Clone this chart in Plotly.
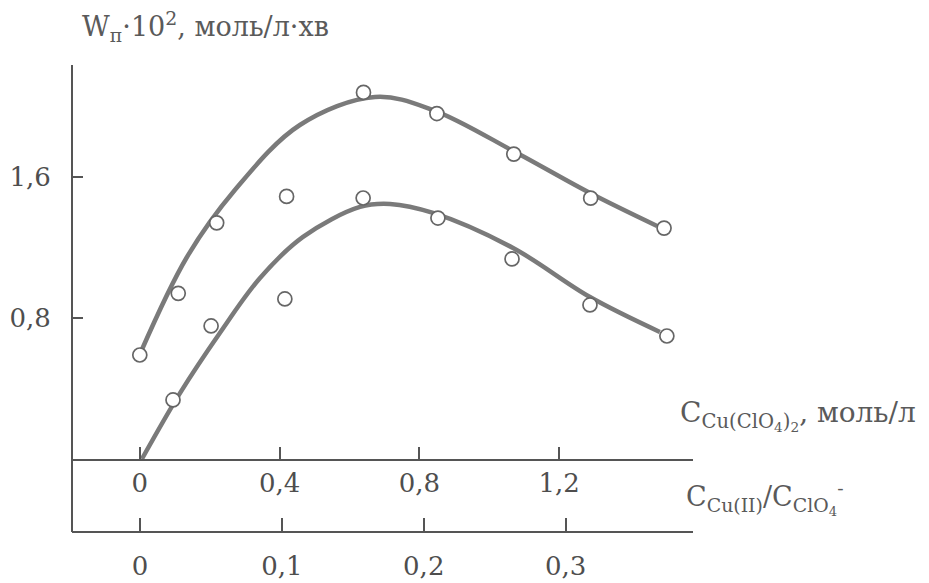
import plotly.graph_objects as go

# ---- data ----
# Upper series (measured points)
up_x = [0.0, 0.11, 0.22, 0.42, 0.64, 0.85, 1.07, 1.29, 1.50]
up_y = [0.59, 0.94, 1.34, 1.49, 2.08, 1.96, 1.73, 1.48, 1.31]
# Lower series (measured points)
lo_x = [0.095, 0.204, 0.415, 0.639, 0.853, 1.065, 1.288, 1.508]
lo_y = [0.335, 0.755, 0.908, 1.481, 1.367, 1.135, 0.874, 0.698]

# Fitted curves
up_cx = [0.003, 0.135, 0.272, 0.458, 0.673, 0.839, 1.079, 1.288, 1.480]
up_cy = [0.607, 1.146, 1.526, 1.895, 2.054, 1.980, 1.736, 1.509, 1.322]
lo_cx = [0.006, 0.115, 0.229, 0.344, 0.467, 0.630, 0.716, 0.839, 1.068, 1.288, 1.488]
lo_cy = [0.0, 0.374, 0.715, 1.027, 1.260, 1.430, 1.447, 1.396, 1.197, 0.919, 0.721]

# Axis ticks
x_ticks = [0, 0.4, 0.8, 1.2]
x_ticktext = ["0", "0,4", "0,8", "1,2"]
r_ticks = [0, 0.1, 0.2, 0.3]
r_ticktext = ["0", "0,1", "0,2", "0,3"]
y_ticks = [0.8, 1.6]
y_ticktext = ["0,8", "1,6"]

W, H = 929, 583
FONT = "DejaVu Serif"
AX = "#555555"
CURVE = "#7a7a7a"
TXT = "#4e4e4e"
TTL = "#5a5a5a"

fig = go.Figure()
for cx, cy in [(up_cx, up_cy), (lo_cx, lo_cy)]:
    fig.add_trace(go.Scatter(x=cx, y=cy, mode="lines", xaxis="x", yaxis="y",
                             line=dict(color=CURVE, width=4.5, shape="spline", smoothing=1.0),
                             hoverinfo="skip", showlegend=False))
for px, py in [(up_x, up_y), (lo_x, lo_y)]:
    fig.add_trace(go.Scatter(x=px, y=py, mode="markers", xaxis="x", yaxis="y",
                             marker=dict(symbol="circle", size=14, color="white",
                                         line=dict(color="#666666", width=1.7)),
                             showlegend=False))
# reference trace for the ratio axis (no visible marks)
fig.add_trace(go.Scatter(x=r_ticks, y=[None] * len(r_ticks), xaxis="x2", yaxis="y",
                         mode="markers", showlegend=False, hoverinfo="skip"))

dom = [72 / W, 693 / W]
tf = dict(family=FONT, size=26, color=TXT)
fig.update_layout(
    width=W, height=H, margin=dict(l=0, r=0, t=0, b=0, pad=0),
    paper_bgcolor="white", plot_bgcolor="white",
    font=dict(family=FONT, color=TXT, size=26),
    xaxis=dict(domain=dom, range=[-0.194, 1.5828], anchor="free", position=1 - 460 / H,
               tickvals=x_ticks, ticktext=x_ticktext, ticks="inside", ticklen=12,
               tickwidth=1.5, tickcolor=AX, showline=True, linecolor=AX, linewidth=1.8,
               showgrid=False, zeroline=False, ticklabelstandoff=0, tickfont=tf,
               automargin=False),
    xaxis2=dict(domain=dom, range=[-0.04785, 0.38972], overlaying="x", anchor="free",
                position=1 - 532 / H, side="bottom",
                tickvals=r_ticks, ticktext=r_ticktext, ticks="inside", ticklen=13,
                tickwidth=1.5, tickcolor=AX, showline=True, linecolor=AX, linewidth=1.8,
                showgrid=False, zeroline=False, ticklabelstandoff=11, tickfont=tf,
                automargin=False),
    yaxis=dict(domain=[1 - 532 / H, 1 - 65 / H], range=[-0.4142, 2.2355],
               anchor="free", position=72 / W,
               tickvals=y_ticks, ticktext=y_ticktext, ticks="inside", ticklen=10,
               tickwidth=1.5, tickcolor=AX, showline=True, linecolor=AX, linewidth=1.8,
               showgrid=False, zeroline=False, ticklabelstandoff=15, tickfont=tf,
               automargin=False),
    annotations=[
        dict(text="W<sub>п</sub>·10<sup>2</sup>, моль/л·хв", xref="paper", yref="paper",
             x=80 / W, y=1 - 26 / H, xanchor="left", yanchor="middle", showarrow=False,
             font=dict(family=FONT, size=27, color=TTL)),
        dict(text="C<sub>Cu(ClO<sub>4</sub>)<sub>2</sub></sub>, моль/л", xref="paper", yref="paper",
             x=678 / W, y=1 - 415 / H, xanchor="left", yanchor="middle", showarrow=False,
             font=dict(family=FONT, size=28, color=TTL)),
        dict(text="C<sub>Cu(II)</sub>/C<sub>ClO<sub>4</sub></sub><sup>-</sup>", xref="paper", yref="paper",
             x=684 / W, y=1 - 498 / H, xanchor="left", yanchor="middle", showarrow=False,
             font=dict(family=FONT, size=27, color=TTL)),
    ],
)

fig.write_html("out.html")
